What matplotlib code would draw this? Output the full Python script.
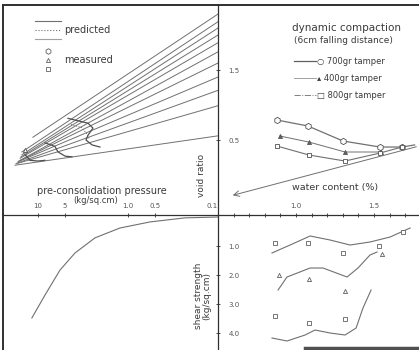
import matplotlib
matplotlib.use("Agg")
import matplotlib.pyplot as plt
from matplotlib.lines import Line2D

# ---- data ----
# top-left: void ratio vs pre-consolidation pressure (log, reversed)
fan_p_start = [11.4, 15.1, 15.1, 15.5, 15.8, 15.8, 16.3, 16.7, 17.1, 17.6, 18.0]
fan_e_start = [0.54, 0.33, 0.29, 0.26, 0.24, 0.21, 0.20, 0.19, 0.17, 0.16, 0.14]
fan_p_end = [0.1] * 11
fan_e_end = [2.30, 2.19, 2.10, 2.00, 1.89, 1.76, 1.60, 1.40, 1.21, 0.99, 0.56]

knee_a_p = [4.64, 2.78, 2.45, 2.78, 2.93, 2.51, 2.05]
knee_a_e = [0.81, 0.74, 0.67, 0.57, 0.50, 0.43, 0.40]
knee_b_p = [8.4, 6.5, 6.0, 5.0, 4.2]
knee_b_e = [0.46, 0.41, 0.33, 0.27, 0.26]
knee_c_p = [13.9, 12.3, 10.0, 8.4]
knee_c_e = [0.29, 0.21, 0.20, 0.21]
pred_p = [4.3, 3.3, 2.9, 2.7]
pred_e = [0.72, 0.68, 0.60, 0.52]

press_ticks = [10, 5, 1.0, 0.5, 0.1]
press_labels = ["10", "5", "1.0", "0.5", "0.1"]

# top-right: void ratio vs water content
w_700 = [0.878, 1.077, 1.301, 1.538, 1.679, 1.76]
e_700 = [0.786, 0.700, 0.486, 0.400, 0.400, 0.43]
w_400 = [0.897, 1.083, 1.314, 1.545]
e_400 = [0.557, 0.471, 0.329, 0.329]
w_800 = [0.878, 1.083, 1.314, 1.538, 1.679]
e_800 = [0.414, 0.286, 0.200, 0.314, 0.400]
zav_w = [0.577, 1.788]
zav_e = [-0.30, 0.414]

void_ticks = [0.5, 1.5]
void_labels = ["0.5", "1.5"]
water_ticks = [1.0, 1.5]
water_labels = ["1.0", "1.5"]

# bottom-left: shear strength vs pressure
bl_p = [11.7, 8.36, 5.70, 3.88, 2.33, 1.23, 0.57, 0.233, 0.1]
bl_s = [3.48, 2.69, 1.83, 1.24, 0.72, 0.38, 0.17, 0.03, 0.0]

# bottom-right: shear strength vs water content
br1_w = [0.865, 1.077, 1.301, 1.532, 1.686]
br1_s = [0.897, 0.897, 1.241, 1.000, 0.517]
br1c_w = [0.846, 0.962, 1.090, 1.218, 1.346, 1.474, 1.603, 1.731]
br1c_s = [1.241, 0.966, 0.655, 0.793, 0.966, 0.862, 0.690, 0.379]
br2_w = [0.891, 1.083, 1.314, 1.551]
br2_s = [2.000, 2.138, 2.552, 1.276]
br2c_w = [0.885, 0.942, 1.090, 1.173, 1.327, 1.397, 1.474, 1.519]
br2c_s = [2.517, 2.069, 1.759, 1.759, 2.069, 1.759, 1.310, 1.207]
br3_w = [0.865, 1.083, 1.314]
br3_s = [3.414, 3.655, 3.517]
br3c_w = [0.846, 0.942, 1.058, 1.122, 1.218, 1.314, 1.385, 1.429, 1.481]
br3c_s = [4.172, 4.276, 4.069, 3.897, 4.000, 4.069, 3.828, 3.138, 2.517]

shear_ticks = [1.0, 2.0, 3.0, 4.0]
shear_labels = ["1.0", "2.0", "3.0", "4.0"]

LINE = "#707070"
TXT = "#3a3a3a"
AX = "#303030"

W, H = 419, 350
fig = plt.figure(figsize=(W / 100, H / 100), dpi=100)
XL, XC, YT, YC = 3, 218, 5, 215

def frac(x0, ytop, x1, ybot):
    return [x0 / W, 1 - ybot / H, (x1 - x0) / W, (ybot - ytop) / H]

ax_tl = fig.add_axes(frac(XL, YT, XC, YC))
ax_tr = fig.add_axes(frac(XC, YT, W, YC))
ax_bl = fig.add_axes(frac(XL, YC, XC, H))
ax_br = fig.add_axes(frac(XC, YC, W, H))

for ax in (ax_tl, ax_bl):
    ax.set_xscale("log")
    ax.set_xlim(24.5, 0.1)
for ax in (ax_tr, ax_br):
    ax.set_xlim(0.5, 1.788)
for ax in (ax_tl, ax_tr):
    ax.set_ylim(-0.571, 2.429)
for ax in (ax_bl, ax_br):
    ax.set_ylim(4.586, -0.069)

for ax in (ax_tl, ax_tr, ax_bl, ax_br):
    ax.patch.set_alpha(0)
    for s in ax.spines.values():
        s.set_visible(False)
        s.set_color(AX)
    ax.set_xticks([])
    ax.set_yticks([])
    ax.minorticks_off()

ax_tl.spines["left"].set_visible(True)
ax_tl.spines["left"].set_linewidth(1.4)
ax_tl.spines["top"].set_visible(True)
ax_tl.spines["top"].set_linewidth(1.4)
ax_tl.spines["right"].set_visible(True)
ax_tl.spines["bottom"].set_visible(True)
ax_tr.spines["top"].set_visible(True)
ax_tr.spines["top"].set_linewidth(1.4)
ax_bl.spines["left"].set_visible(True)
ax_bl.spines["left"].set_linewidth(1.4)
ax_bl.spines["right"].set_visible(True)

# ---- top-left ----
for ps, es, pe, ee in zip(fan_p_start, fan_e_start, fan_p_end, fan_e_end):
    ax_tl.plot([ps, pe], [es, ee], color=LINE, lw=0.7)
for kp, ke in ((knee_a_p, knee_a_e), (knee_b_p, knee_b_e), (knee_c_p, knee_c_e)):
    ax_tl.plot(kp, ke, color="#505050", lw=0.9)
ax_tl.plot(pred_p, pred_e, color="#606060", lw=0.7, ls=":")
ax_tl.plot([13.9], [0.36], marker="^", ms=3, mfc="white", mec="#505050", mew=0.6)

h1 = Line2D([], [], color=LINE, lw=0.8)
h2 = Line2D([], [], color=LINE, lw=0.8, ls=":")
h3 = Line2D([], [], color="#a0a0a0", lw=0.8)
leg1 = ax_tl.legend([h1, h2, h3], ["", "predicted", ""], loc="upper left",
                    bbox_to_anchor=(0.11, 0.985), frameon=False, handlelength=2.6,
                    labelspacing=-0.15, handletextpad=0.4, fontsize=7,
                    labelcolor=TXT)
ax_tl.add_artist(leg1)
m1 = Line2D([], [], ls="none", marker="h", ms=4, mfc="white", mec="#606060", mew=0.6)
m2 = Line2D([], [], ls="none", marker="^", ms=3, mfc="white", mec="#606060", mew=0.6)
m3 = Line2D([], [], ls="none", marker="s", ms=3, mfc="white", mec="#606060", mew=0.6)
ax_tl.legend([m1, m2, m3], ["", "measured", ""], loc="upper left",
             bbox_to_anchor=(0.11, 0.845), frameon=False, handlelength=2.6,
             labelspacing=-0.1, handletextpad=0.4, fontsize=7, labelcolor=TXT)

ax_tl.text(0.458, 0.112, "pre-consolidation pressure", transform=ax_tl.transAxes,
           ha="center", va="center", fontsize=7, color=TXT)
ax_tl.text(0.43, 0.068, "(kg/sq.cm)", transform=ax_tl.transAxes,
           ha="center", va="center", fontsize=6, color=TXT)
ax_tl.text(0.925, 0.19, "void ratio", transform=ax_tl.transAxes, rotation=90,
           ha="center", va="center", fontsize=6.5, color=TXT)

ax_bl.xaxis.tick_top()
ax_bl.set_xticks(press_ticks)
ax_bl.set_xticklabels(press_labels)
ax_bl.tick_params(axis="x", which="major", top=True, direction="inout", length=3,
                  width=0.6, color=AX, labelsize=5, labelcolor="#555555", pad=3)
ax_bl.get_xticklabels()[-1].set_horizontalalignment("right")

ax_tl.yaxis.tick_right()
ax_tl.set_yticks(void_ticks)
ax_tl.set_yticklabels(void_labels)
ax_tl.tick_params(axis="y", right=True, direction="inout", length=3, width=0.6,
                  color=AX, labelsize=5, labelcolor="#555555", pad=6)

# ---- top-right ----
ax_tr.plot(w_700, e_700, color=LINE, lw=0.9, marker="h", ms=4.5, mfc="white",
           mec="#505050", mew=0.6, markevery=[0, 1, 2, 3, 4])
ax_tr.plot(w_400, e_400, color=LINE, lw=0.7, marker="^", ms=3, mfc="#606060",
           mec="#505050", mew=0.5)
ax_tr.plot(w_800, e_800, color=LINE, lw=0.8, marker="s", ms=3.5, mfc="white",
           mec="#505050", mew=0.6)
ax_tr.annotate("", xy=(zav_w[0], zav_e[0]), xytext=(zav_w[1], zav_e[1]),
               arrowprops=dict(arrowstyle="->", color=LINE, lw=0.7))

ax_tr.text(0.64, 0.89, "dynamic compaction", transform=ax_tr.transAxes,
           ha="center", va="center", fontsize=7.5, color=TXT)
ax_tr.text(0.625, 0.83, "(6cm falling distance)", transform=ax_tr.transAxes,
           ha="center", va="center", fontsize=6.5, color=TXT)
t1 = Line2D([], [], color="#606060", lw=0.9)
t2 = Line2D([], [], color="#909090", lw=0.6)
t3 = Line2D([], [], color="#808080", lw=0.7, ls="-.")
ax_tr.legend([t1, t2, t3], ["\u25cb 700gr tamper", "\u25b4 400gr tamper",
                            "\u25a1 800gr tamper"],
             loc="upper left", bbox_to_anchor=(0.34, 0.79), frameon=False,
             handlelength=2.6, labelspacing=1.0, handletextpad=0.2,
             fontsize=6, labelcolor=TXT)
ax_tr.text(0.582, 0.129, "water content (%)", transform=ax_tr.transAxes,
           ha="center", va="center", fontsize=6.8, color=TXT)

ax_br.xaxis.tick_top()
ax_br.set_xticks(water_ticks)
ax_br.set_xticklabels(water_labels)
ax_br.set_xticks([0.6, 0.7, 0.8, 0.9, 1.1, 1.2, 1.3, 1.4, 1.6, 1.7], minor=True)
ax_br.tick_params(axis="x", which="both", top=True, direction="inout", length=3,
                  width=0.6, color=AX, labelsize=5, labelcolor="#555555", pad=3)
ax_br.spines["top"].set_visible(True)
ax_br.spines["top"].set_linewidth(0.9)

# ---- bottom-left ----
ax_bl.plot(bl_p, bl_s, color=LINE, lw=0.8)
ax_bl.text(0.93, 0.40, "shear strength\n(kg/sq.cm)", transform=ax_bl.transAxes,
           rotation=90, ha="center", va="center", fontsize=6.5, color=TXT,
           linespacing=0.9)
ax_bl.yaxis.tick_right()
ax_bl.set_yticks(shear_ticks)
ax_bl.set_yticklabels(shear_labels)
ax_bl.tick_params(axis="y", right=True, direction="inout", length=3, width=0.6,
                  color=AX, labelsize=5, labelcolor="#555555", pad=6)
ax_bl.spines["right"].set_linewidth(0.9)
ax_tl.spines["right"].set_linewidth(0.9)
ax_tl.spines["bottom"].set_linewidth(0.9)

# ---- bottom-right ----
for cw, cs in ((br1c_w, br1c_s), (br2c_w, br2c_s), (br3c_w, br3c_s)):
    ax_br.plot(cw, cs, color=LINE, lw=0.8)
ax_br.plot(br1_w, br1_s, ls="none", marker="s", ms=3.5, mfc="white",
           mec="#606060", mew=0.6)
ax_br.plot(br2_w, br2_s, ls="none", marker="^", ms=3, mfc="white",
           mec="#606060", mew=0.6)
ax_br.plot(br3_w, br3_s, ls="none", marker="s", ms=3.5, mfc="white",
           mec="#606060", mew=0.6)

fig.add_artist(Line2D([305 / W, 1.0], [2.5 / H, 2.5 / H], color="#505050", lw=2.5))

fig.savefig("out.png", dpi=100, facecolor="white")
